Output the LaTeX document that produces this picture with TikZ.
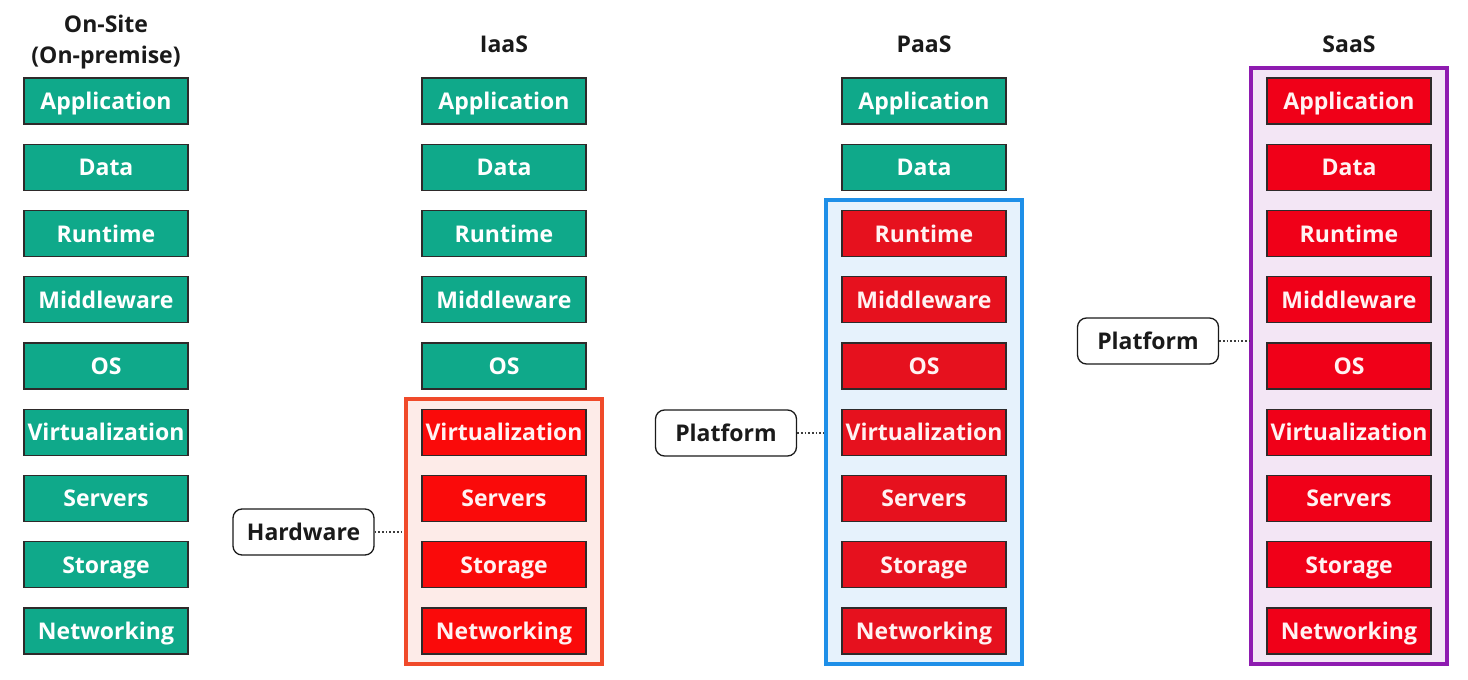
\documentclass[tikz,border=0pt]{standalone}
\usepackage{fontspec}
\setmainfont{Open Sans}
\usetikzlibrary{fit,backgrounds}
\definecolor{ownfill}{HTML}{0FA98A}
\definecolor{edge}{HTML}{2E2A2A}
\definecolor{ink}{HTML}{1A1A1A}
\definecolor{iaasred}{HTML}{FA0A0A}
\definecolor{paasred}{HTML}{E6111E}
\definecolor{saasred}{HTML}{F00018}
\definecolor{iaasline}{HTML}{F04A2A}
\definecolor{iaasbg}{HTML}{FDEBE8}
\definecolor{paasline}{HTML}{1E8FE8}
\definecolor{paasbg}{HTML}{E6F2FC}
\definecolor{saasline}{HTML}{8E1BB0}
\definecolor{saasbg}{HTML}{F3E6F5}
\begin{document}
\begin{tikzpicture}[x=1pt,y=-1pt,
  bigfont/.style={font=\fontsize{23}{31}\selectfont\bfseries},
  layer/.style={bigfont, draw=edge, line width=1.3pt, minimum width=164pt,
    minimum height=46pt, inner sep=0pt, text depth=0pt, text=white},
  own/.style={layer, fill=ownfill},
  iaasmg/.style={layer, fill=iaasred, text=white!95!red},
  paasmg/.style={layer, fill=paasred, text=white!95!red},
  saasmg/.style={layer, fill=saasred, text=white!95!red},
  head/.style={bigfont, text=ink, align=center},
  group/.style={line width=4pt, inner xsep=15.5pt, inner ysep=9.5pt},
  tag/.style={bigfont, text=ink, text depth=0pt,
    draw=ink, fill=white, line width=1.3pt, rounded corners=9pt,
    minimum width=141pt, minimum height=46pt, inner sep=0pt},
  link/.style={draw=ink!85, line width=1.7pt, dotted}
]
\useasboundingbox (0,0) rectangle (1468,680);

% column headings
\node[head] (h1) at (106,42) {On-Site\\(On-premise)};
\node[head] (h2) at (504,44) {IaaS};
\node[head] (h3) at (924,44) {PaaS};
\node[head] (h4) at (1349,44) {SaaS};

% the nine layers of each stack
\def\layers{Application,Data,Runtime,Middleware,OS,Virtualization,Servers,Storage,Networking}
\foreach \t [count=\i] in \layers {
  \pgfmathsetmacro{\yy}{101+66.25*(\i-1)}
  \node[own] (a\i) at (106,\yy) {\t};
  \ifnum\i<6
    \node[own] (b\i) at (504,\yy) {\t};
  \else
    \node[iaasmg] (b\i) at (504,\yy) {\t};
  \fi
  \ifnum\i<3
    \node[own] (c\i) at (924,\yy) {\t};
  \else
    \node[paasmg] (c\i) at (924,\yy) {\t};
  \fi
  \node[saasmg] (d\i) at (1349,\yy) {\t};
}

% provider-managed groups
\begin{scope}[on background layer]
  \node[group, draw=iaasline, fill=iaasbg, fit=(b6)(b9)] (iaas) {};
  \node[group, draw=paasline, fill=paasbg, fit=(c3)(c9)] (paas) {};
  \node[group, draw=saasline, fill=saasbg, fit=(d1)(d9)] (saas) {};
\end{scope}

% group labels
\node[tag] (hw) at (303.5,532) {Hardware};
\node[tag] (pf1) at (726,433) {Platform};
\node[tag] (pf2) at (1148,341) {Platform};

\draw[link] (hw.east) -- (hw.east -| iaas.west);
\draw[link] (pf1.east) -- (pf1.east -| paas.west);
\draw[link] (pf2.east) -- (pf2.east -| saas.west);
\end{tikzpicture}
\end{document}
